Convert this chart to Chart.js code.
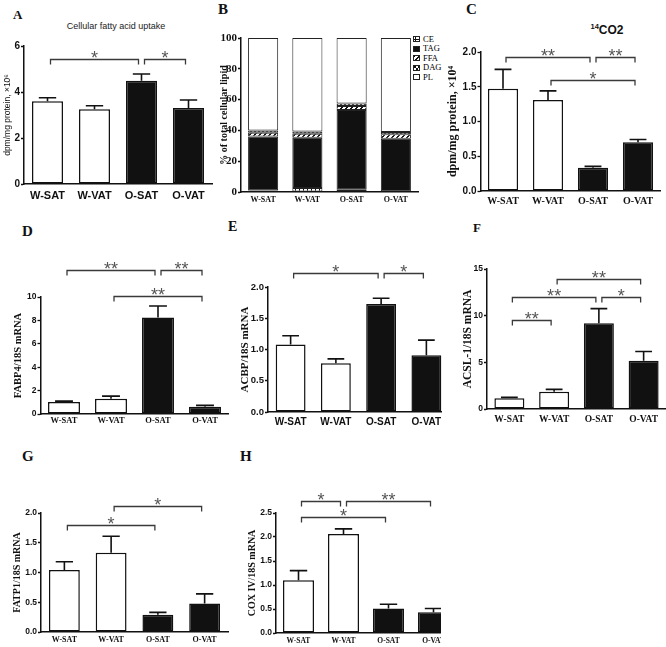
<!DOCTYPE html>
<html><head><meta charset="utf-8">
<script src="https://cdn.jsdelivr.net/npm/chart.js@4.4.1/dist/chart.umd.min.js"></script>
<style>
html,body{margin:0;padding:0;background:#fff}
body{width:666px;height:647px;position:relative;overflow:hidden}
.wrap{position:absolute;overflow:hidden}
.lbl{position:absolute;font-family:"Liberation Serif","Times New Roman",serif;font-weight:bold;line-height:1;color:#111;white-space:nowrap}
.txt{position:absolute;line-height:1;white-space:nowrap;color:#222}
.leg{position:absolute;font-family:"Liberation Serif","Times New Roman",serif;font-size:8.5px;line-height:1;color:#000;white-space:nowrap}
.sw{position:absolute;width:7px;height:6px;border:1px solid #222;box-sizing:border-box}
</style></head><body>
<div class="lbl" style="left:13px;top:8px;font-size:13px">A</div>
<div class="lbl" style="left:218px;top:2px;font-size:15px">B</div>
<div class="lbl" style="left:466px;top:2px;font-size:15px">C</div>
<div class="lbl" style="left:22px;top:224px;font-size:15px">D</div>
<div class="lbl" style="left:228px;top:220px;font-size:14px">E</div>
<div class="lbl" style="left:473px;top:221px;font-size:13px">F</div>
<div class="lbl" style="left:22px;top:449px;font-size:15px">G</div>
<div class="lbl" style="left:240px;top:449px;font-size:15px">H</div>
<div class="txt" style="left:66px;top:22px;width:100px;text-align:center;font-family:'Liberation Sans',Arial,sans-serif;font-size:9px">Cellular fatty acid uptake</div>
<div class="txt" style="left:567px;top:23px;width:80px;text-align:center;font-family:'Liberation Sans',Arial,sans-serif;font-size:12px;font-weight:bold;color:#111"><sup style="font-size:7.5px;vertical-align:5px">14</sup>CO2</div>
<div id="legend"></div>
<script>
// ---------------- data ----------------
const categories = ['W-SAT', 'W-VAT', 'O-SAT', 'O-VAT'];

// A: cellular fatty acid uptake (dpm/mg protein, x10^6)
const uptakeMean = [3.60, 3.25, 4.49, 3.30];
const uptakeSem  = [0.15, 0.15, 0.29, 0.35];
const uptakeTicks = ['0', '2', '4', '6'];
const uptakeSig = [[0, 2, 5.44, '*'], [2, 3, 5.44, '*']];

// B: % of total cellular lipid
const lipidClasses = ['CE', 'TAG', 'FFA', 'DAG', 'PL'];
const ceShare  = [1.0, 2.6, 1.5, 0.3];
const tagShare = [35.0, 32.7, 51.7, 34.2];
const ffaShare = [2.5, 2.5, 2.6, 3.0];
const dagShare = [1.5, 1.5, 1.7, 1.5];
const plShare  = [60.0, 60.7, 42.5, 61.0];
const lipidTicks = ['0', '20', '40', '60', '80', '100'];

// C: 14CO2 (dpm/mg protein, x10^4)
const co2Mean = [1.47, 1.31, 0.335, 0.70];
const co2Sem  = [0.28, 0.13, 0.02, 0.04];
const co2Ticks = ['0.0', '0.5', '1.0', '1.5', '2.0'];
const co2Sig = [[0, 2, 1.93, '**'], [2, 3, 1.93, '**'], [1, 3, 1.59, '*']];

// D: FABP4/18S mRNA
const fabp4Mean = [1.02, 1.31, 8.24, 0.63];
const fabp4Sem  = [0.08, 0.22, 0.99, 0.11];
const fabp4Ticks = ['0', '2', '4', '6', '8', '10'];
const fabp4Sig = [[0, 2, 12.27, '**'], [2, 3, 12.27, '**'], [1, 3, 10.08, '**']];

// E: ACBP/18S mRNA
const acbpMean = [1.08, 0.78, 1.73, 0.91];
const acbpSem  = [0.14, 0.07, 0.09, 0.24];
const acbpTicks = ['0.0', '0.5', '1.0', '1.5', '2.0'];
const acbpSig = [[0, 2, 2.22, '*'], [2, 3, 2.22, '*']];

// F: ACSL-1/18S mRNA
const acsl1Mean = [1.15, 1.86, 9.20, 5.16];
const acsl1Sem  = [0.10, 0.24, 1.55, 1.00];
const acsl1Ticks = ['0', '5', '10', '15'];
const acsl1Sig = [[1, 3, 13.9, '**'], [0, 2, 12.0, '**'], [2, 3, 12.0, '*'], [0, 1, 9.57, '**']];

// G: FATP1/18S mRNA
const fatp1Mean = [1.04, 1.33, 0.29, 0.48];
const fatp1Sem  = [0.14, 0.28, 0.04, 0.16];
const fatp1Ticks = ['0.0', '0.5', '1.0', '1.5', '2.0'];
const fatp1Sig = [[1, 3, 2.12, '*'], [0, 2, 1.79, '*']];

// H: COX IV/18S mRNA
const coxMean = [1.10, 2.06, 0.51, 0.43];
const coxSem  = [0.20, 0.11, 0.09, 0.08];
const coxTicks = ['0.0', '0.5', '1.0', '1.5', '2.0', '2.5'];
const coxSig = [[0, 1, 2.74, '*'], [1, 3, 2.74, '**'], [0, 2, 2.41, '*']];

// ---------------- helpers ----------------
const SANS = '"Liberation Sans", Arial, sans-serif';
const SERIF = '"Liberation Serif", "Times New Roman", serif';
const INK = '#111';
const lean = ['#ffffff', '#ffffff', INK, INK];

function annotPlugin(mean, sem, sig) {
  return {
    id: 'annot',
    afterDatasetsDraw(chart) {
      const ctx = chart.ctx, xs = chart.scales.x, ys = chart.scales.y;
      if (mean) {
        const meta = chart.getDatasetMeta(0);
        ctx.save();
        ctx.strokeStyle = INK; ctx.lineWidth = 1.6;
        meta.data.forEach((bar, i) => {
          const top = ys.getPixelForValue(mean[i]);
          const end = ys.getPixelForValue(mean[i] + sem[i]);
          const hw = bar.width * 0.28;
          ctx.beginPath();
          ctx.moveTo(bar.x, top); ctx.lineTo(bar.x, end);
          ctx.moveTo(bar.x - hw, end); ctx.lineTo(bar.x + hw, end);
          ctx.stroke();
        });
        ctx.restore();
      }
      if (sig) {
        ctx.save();
        ctx.strokeStyle = '#3a3a3a'; ctx.lineWidth = 1.3;
        ctx.fillStyle = '#555'; ctx.font = '18px ' + SANS;
        ctx.textAlign = 'center'; ctx.textBaseline = 'alphabetic';
        sig.forEach(([a, b, lvl, lab]) => {
          const x1 = xs.getPixelForValue(a) + 3, x2 = xs.getPixelForValue(b) - 3;
          const y = Math.round(ys.getPixelForValue(lvl)) + 0.5;
          ctx.beginPath();
          ctx.moveTo(x1, y + 5); ctx.lineTo(x1, y); ctx.lineTo(x2, y); ctx.lineTo(x2, y + 5);
          ctx.stroke();
          ctx.fillText(lab, (x1 + x2) / 2, y + 4);
        });
        ctx.restore();
      }
    }
  };
}

function makeCanvas(g) {
  const left = Math.round(g.titleCx - 0.6 * g.titleSize);
  const top = Math.round(g.T - g.padTop);
  const width = Math.ceil(g.R - left) + 2;
  const height = Math.round(g.B - top + g.xh);
  const wrap = document.createElement('div');
  wrap.className = 'wrap';
  wrap.style.left = left + 'px';
  wrap.style.top = top + 'px';
  wrap.style.width = ((g.clip ? g.clip - left : width)) + 'px';
  wrap.style.height = height + 'px';
  const cv = document.createElement('canvas');
  cv.width = width; cv.height = height;
  cv.style.width = width + 'px'; cv.style.height = height + 'px';
  wrap.appendChild(cv);
  document.body.appendChild(wrap);
  return {
    cv,
    yw: g.L - left,
    xh: height - (g.B - top),
    padTop: g.T - top,
    padRight: width - (g.R - left)
  };
}

function scalesFor(g, c, f, tickLabels, yMax, yStep, yTitle, stacked) {
  return {
    x: {
      type: 'category', offset: true, stacked: !!stacked,
      grid: { display: false, drawTicks: false },
      border: { display: true, color: INK, width: 1.5 },
      ticks: { font: f.x, color: INK, padding: g.xPad, maxRotation: 0, autoSkip: false },
      afterFit: s => { s.height = c.xh; }
    },
    y: {
      min: 0, max: yMax, stacked: !!stacked,
      ticks: { stepSize: yStep, font: f.y, color: INK, padding: 1,
               callback: (v, i) => tickLabels[i] },
      grid: { drawOnChartArea: false, drawTicks: true, tickLength: 3, tickColor: INK, tickWidth: 1.3 },
      border: { display: true, color: INK, width: 1.5 },
      title: { display: true, text: yTitle, font: f.t, color: INK, padding: 0 },
      afterFit: s => { s.width = c.yw; }
    }
  };
}

function barPanel(g, f, mean, sem, sig, tickLabels, yMax, yStep, yTitle) {
  const c = makeCanvas(g);
  new Chart(c.cv, {
    type: 'bar',
    data: {
      labels: categories,
      datasets: [{
        data: mean,
        backgroundColor: lean,
        borderColor: INK,
        borderWidth: 1.5,
        borderSkipped: false,
        barPercentage: g.bar,
        categoryPercentage: 1
      }]
    },
    options: {
      responsive: false, animation: false, devicePixelRatio: 1,
      layout: { autoPadding: false, padding: { top: c.padTop, right: c.padRight, left: 0, bottom: 0 } },
      plugins: { legend: { display: false }, tooltip: { enabled: false } },
      scales: scalesFor(g, c, f, tickLabels, yMax, yStep, yTitle, false)
    },
    plugins: [annotPlugin(mean, sem, sig)]
  });
}

const fnt = (family, size, weight) => ({ family, size, weight: weight || 'bold', lineHeight: 1.2 });

// ---------------- A ----------------
barPanel({ L: 24, R: 212, T: 46, B: 184, titleCx: 8, titleSize: 8.5, padTop: 40, xh: 22, xPad: 5, bar: 0.66 },
  { x: fnt(SANS, 11), y: fnt(SANS, 10), t: fnt(SANS, 8.5, 'normal') },
  uptakeMean, uptakeSem, uptakeSig, uptakeTicks, 6, 2, 'dpm/mg protein, \u00d710\u2076');

// ---------------- B ----------------
function tile(w, h, draw) {
  const t = document.createElement('canvas'); t.width = w; t.height = h;
  const g = t.getContext('2d'); g.fillStyle = '#fff'; g.fillRect(0, 0, w, h);
  g.fillStyle = '#111'; draw(g); return t;
}
const ceTile = tile(4, 4, g => { g.fillRect(1, 0, 1, 4); g.fillRect(0, 2, 4, 1); });
const ffaTile = tile(5, 5, g => { for (let i = 0; i < 5; i++) { g.fillRect(i, 4 - i, 1, 1); g.fillRect((i + 1) % 5, 4 - i, 1, 1); } });
const dagTile = tile(4, 4, g => { g.fillRect(0, 0, 2, 2); g.fillRect(2, 2, 2, 2); });
const solid = col => tile(2, 2, g => { g.fillStyle = col; g.fillRect(0, 0, 2, 2); });
const tagTile = solid('#111'), plTile = solid('#fff');

(function () {
  const g = { L: 241, R: 418, T: 38, B: 192, titleCx: 223.5, titleSize: 10, padTop: 12, xh: 20, xPad: 3, bar: 0.68 };
  const f = { x: fnt(SERIF, 8), y: fnt(SERIF, 11), t: fnt(SERIF, 10) };
  const c = makeCanvas(g);
  const ctx = c.cv.getContext('2d');
  const pat = t => ctx.createPattern(t, 'repeat');
  const shares = [ceShare, tagShare, ffaShare, dagShare, plShare];
  const fills = [pat(ceTile), '#111', pat(ffaTile), pat(dagTile), '#fff'];
  new Chart(c.cv, {
    type: 'bar',
    data: {
      labels: categories,
      datasets: lipidClasses.map((name, k) => ({
        label: name, data: shares[k], backgroundColor: fills[k],
        borderColor: '#222', borderWidth: 1, borderSkipped: false,
        barPercentage: g.bar, categoryPercentage: 1
      }))
    },
    options: {
      responsive: false, animation: false, devicePixelRatio: 1,
      layout: { autoPadding: false, padding: { top: c.padTop, right: c.padRight, left: 0, bottom: 0 } },
      plugins: { legend: { display: false }, tooltip: { enabled: false } },
      scales: scalesFor(g, c, f, lipidTicks, 100, 20, '% of total cellular lipid', true)
    }
  });
  // legend (HTML)
  const leg = document.getElementById('legend');
  const tiles = [ceTile, tagTile, ffaTile, dagTile, plTile];
  lipidClasses.forEach((name, k) => {
    const cy = 39 + k * 9.5;
    const sw = document.createElement('div');
    sw.className = 'sw';
    sw.style.left = '413px'; sw.style.top = Math.round(cy - 3) + 'px';
    sw.style.backgroundImage = 'url(' + tiles[k].toDataURL() + ')';
    leg.appendChild(sw);
    const tx = document.createElement('div');
    tx.className = 'leg';
    tx.style.left = '423px'; tx.style.top = Math.round(cy - 4.5) + 'px';
    tx.textContent = name;
    leg.appendChild(tx);
  });
})();

// ---------------- C ----------------
barPanel({ L: 480.5, R: 660.5, T: 52, B: 191, titleCx: 453, titleSize: 12, padTop: 30, xh: 22, xPad: 4, bar: 0.67 },
  { x: fnt(SERIF, 10), y: fnt(SANS, 10), t: fnt(SERIF, 12) },
  co2Mean, co2Sem, co2Sig, co2Ticks, 2, 0.5, 'dpm/mg protein, \u00d710\u2074');

// ---------------- D ----------------
barPanel({ L: 40.5, R: 228.5, T: 297, B: 414, titleCx: 18, titleSize: 10.5, padTop: 60, xh: 20, xPad: 2, bar: 0.68 },
  { x: fnt(SERIF, 8.5), y: fnt(SANS, 8.5), t: fnt(SERIF, 10.5) },
  fabp4Mean, fabp4Sem, fabp4Sig, fabp4Ticks, 10, 2, 'FABP4/18S mRNA');

// ---------------- E ----------------
barPanel({ L: 268, R: 449, T: 287, B: 412, titleCx: 246, titleSize: 11, padTop: 50, xh: 22, xPad: 4, bar: 0.66, clip: 442 },
  { x: fnt(SANS, 10), y: fnt(SANS, 9.5), t: fnt(SERIF, 11) },
  acbpMean, acbpSem, acbpSig, acbpTicks, 2, 0.5, 'ACBP/18S mRNA');

// ---------------- F ----------------
barPanel({ L: 487, R: 666, T: 269, B: 409, titleCx: 468, titleSize: 11.5, padTop: 40, xh: 22, xPad: 5, bar: 0.67 },
  { x: fnt(SERIF, 9.5), y: fnt(SANS, 8.5), t: fnt(SERIF, 11.5) },
  acsl1Mean, acsl1Sem, acsl1Sig, acsl1Ticks, 15, 5, 'ACSL-1/18S mRNA');

// ---------------- G ----------------
barPanel({ L: 41, R: 228, T: 513, B: 632, titleCx: 17, titleSize: 10, padTop: 50, xh: 15, xPad: 3, bar: 0.66 },
  { x: fnt(SERIF, 8), y: fnt(SANS, 8.5), t: fnt(SERIF, 10) },
  fatp1Mean, fatp1Sem, fatp1Sig, fatp1Ticks, 2, 0.5, 'FATP1/18S mRNA');

// ---------------- H ----------------
barPanel({ L: 276, R: 456, T: 513, B: 633, titleCx: 252, titleSize: 10, padTop: 40, xh: 14, xPad: 4, bar: 0.69, clip: 441 },
  { x: fnt(SERIF, 7.5), y: fnt(SANS, 8.5), t: fnt(SERIF, 10) },
  coxMean, coxSem, coxSig, coxTicks, 2.5, 0.5, 'COX IV/18S mRNA');
</script>
</body></html>
